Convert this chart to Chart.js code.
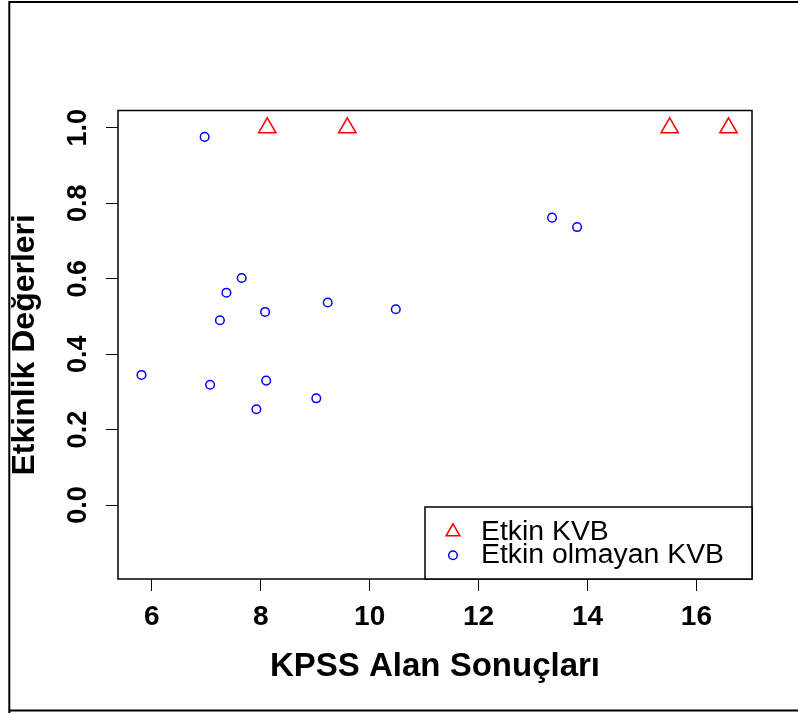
<!DOCTYPE html>
<html>
<head>
<meta charset="utf-8">
<script src="https://cdn.jsdelivr.net/npm/chart.js@4.4.0/dist/chart.umd.min.js"></script>
<style>
  html, body { margin: 0; padding: 0; background: #fff; }
  canvas { display: block; }
</style>
</head>
<body>
<canvas id="myChart" width="798" height="713"></canvas>
<script>
// etkin KVB (ucgenler)
const etkinX = [8.12, 9.59, 15.51, 16.59]
const etkinY = [1.0, 1.0, 1.0, 1.0]
// etkin olmayan KVB (daireler)
const olmayanX = [5.81, 6.97, 7.07, 7.25, 7.37, 7.65, 7.92, 8.08, 8.10, 9.02, 9.23, 10.48, 13.35, 13.81]
const olmayanY = [0.345, 0.976, 0.319, 0.490, 0.563, 0.602, 0.254, 0.512, 0.330, 0.283, 0.537, 0.519, 0.762, 0.737]

const seriesNames = ['Etkin KVB', 'Etkin olmayan KVB']
const xTicks = [6, 8, 10, 12, 14, 16]
const yTicks = [0, 0.2, 0.4, 0.6, 0.8, 1.0]
const yLim = [-0.15, 1]

const FONT = '"Liberation Sans", Arial, sans-serif'

// R gibi eksenleri %4 genislet
const allX = etkinX.concat(olmayanX)
const xMinD = Math.min(...allX), xMaxD = Math.max(...allX)
const xExt = (xMaxD - xMinD) * 0.04
const yExt = (yLim[1] - yLim[0]) * 0.04

const toPoints = (xs, ys) => xs.map((x, i) => ({ x: x, y: ys[i] }))

// dis cerceve
const cerceve = {
  id: 'cerceve',
  beforeDraw(chart) {
    const ctx = chart.ctx
    ctx.save()
    ctx.fillStyle = '#fff'
    ctx.fillRect(0, 0, chart.width, chart.height)
    ctx.strokeStyle = '#000'
    ctx.lineWidth = 2
    ctx.beginPath()
    ctx.moveTo(9.3, 713)
    ctx.lineTo(9.3, 2)
    ctx.lineTo(798, 2)
    ctx.moveTo(9.3, 710.5)
    ctx.lineTo(798, 710.5)
    ctx.stroke()
    ctx.restore()
  }
}

// grafik kutusu + legend (sag alt)
const kutuLegend = {
  id: 'kutuLegend',
  afterDraw(chart) {
    const ctx = chart.ctx
    const area = chart.chartArea
    ctx.save()
    ctx.strokeStyle = '#000'
    ctx.lineWidth = 1.5
    ctx.strokeRect(area.left, area.top, area.right - area.left, area.bottom - area.top)

    ctx.font = '28.4px ' + FONT
    const textW = Math.max(...seriesNames.map(t => ctx.measureText(t).width))
    const rowH = 23.5
    const w = 56 + textW + 28
    const h = 13 + rowH * 2 + 12
    const left = area.right - w
    const top = area.bottom - h
    ctx.fillStyle = '#fff'
    ctx.fillRect(left, top, w, h)
    ctx.strokeRect(left, top, w, h)

    chart.data.datasets.forEach((ds, i) => {
      const cy = top + 13 + rowH * i + rowH / 2
      ctx.strokeStyle = ds.borderColor
      ctx.fillStyle = 'rgba(0,0,0,0)'
      ctx.lineWidth = ds.borderWidth
      Chart.helpers.drawPoint(ctx, {
        pointStyle: ds.pointStyle,
        radius: ds.pointStyle == 'triangle' ? 8 : ds.pointRadius,
        borderWidth: ds.borderWidth,
        rotation: 0
      }, left + 28, cy)
      ctx.fillStyle = '#000'
      ctx.textBaseline = 'middle'
      ctx.textAlign = 'left'
      ctx.fillText(ds.label, left + 56, cy)
    })
    ctx.restore()
  }
}

new Chart('myChart', {
  type: 'scatter',
  data: {
    datasets: [{
      label: seriesNames[0],
      data: toPoints(etkinX, etkinY),
      pointStyle: 'triangle',
      pointRadius: 10,
      borderWidth: 1.5,
      borderColor: '#ff0000',
      backgroundColor: 'rgba(0,0,0,0)'
    }, {
      label: seriesNames[1],
      data: toPoints(olmayanX, olmayanY),
      pointStyle: 'circle',
      pointRadius: 4.3,
      borderWidth: 1.5,
      borderColor: '#0000ff',
      backgroundColor: 'rgba(0,0,0,0)'
    }]
  },
  options: {
    responsive: false,
    animation: false,
    devicePixelRatio: 1,
    layout: { padding: { left: 0, right: 46, top: 110.5, bottom: 25.8 } },
    plugins: {
      legend: { display: false },
      tooltip: { enabled: false }
    },
    scales: {
      x: {
        type: 'linear',
        min: xMinD - xExt,
        max: xMaxD + xExt,
        afterBuildTicks: s => { s.ticks = xTicks.map(v => ({ value: v })) },
        afterFit: s => { s.height = 108.2 },
        border: { display: false },
        grid: { drawOnChartArea: false, drawTicks: true, tickLength: 12, color: '#000', lineWidth: 1 },
        ticks: {
          color: '#000',
          font: { family: FONT, size: 28, weight: 'bold' },
          padding: 9,
          maxRotation: 0,
          autoSkip: false,
          callback: v => String(v)
        },
        title: {
          display: true,
          text: 'KPSS Alan Sonuçları',
          color: '#000',
          font: { family: FONT, size: 33, weight: 'bold' },
          padding: 0
        }
      },
      y: {
        type: 'linear',
        min: yLim[0] - yExt,
        max: yLim[1] + yExt,
        afterBuildTicks: s => { s.ticks = yTicks.map(v => ({ value: v })) },
        afterFit: s => { s.width = 118 },
        border: { display: false },
        grid: { drawOnChartArea: false, drawTicks: true, tickLength: 12, color: '#000', lineWidth: 1 },
        ticks: {
          color: '#000',
          font: { family: FONT, size: 27, weight: 'bold' },
          padding: 9,
          minRotation: 90,
          maxRotation: 90,
          crossAlign: 'center',
          autoSkip: false,
          callback: v => v.toFixed(1)
        },
        title: {
          display: true,
          text: 'Etkinlik Değerleri',
          color: '#000',
          font: { family: FONT, size: 32, weight: 'bold' },
          padding: { top: 6, bottom: 0 }
        }
      }
    }
  },
  plugins: [cerceve, kutuLegend]
})
</script>
</body>
</html>
